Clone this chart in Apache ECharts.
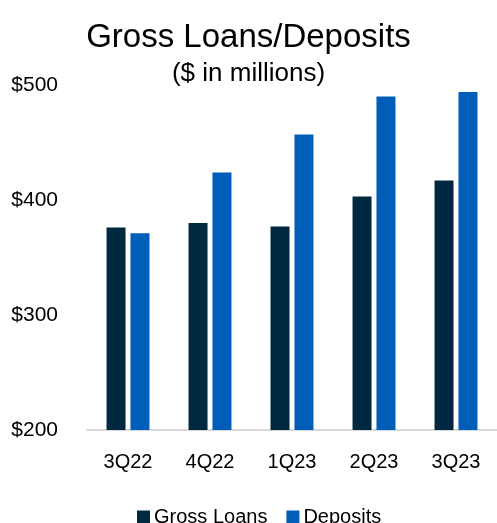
<!DOCTYPE html>
<html>
<head>
<meta charset="utf-8">
<script src="https://cdn.jsdelivr.net/npm/echarts@6/dist/echarts.min.js"></script>
<style>
html,body{margin:0;padding:0;background:#fff;}
#chart{width:497px;height:523px;}
</style>
</head>
<body>
<div id="chart"></div>
<script>
const categories = ['3Q22', '4Q22', '1Q23', '2Q23', '3Q23'];
const grossLoans = [376, 380, 377, 403, 417];
const deposits = [371, 424, 457, 490, 494];
const yTicks = { min: 200, max: 500, interval: 100 };

const FONT = 'Liberation Sans';
const chart = echarts.init(document.getElementById('chart'), null, { renderer: 'canvas' });
chart.setOption({
  animation: false,
  backgroundColor: '#ffffff',
  title: [
    { text: 'Gross Loans/Deposits', left: 'center', top: 16,
      textStyle: { fontFamily: FONT, fontSize: 33, fontWeight: 'normal', color: '#000' } },
    { text: '($ in millions)', left: 'center', top: 56,
      textStyle: { fontFamily: FONT, fontSize: 26, fontWeight: 'normal', color: '#000' } }
  ],
  legend: {
    data: ['Gross Loans', 'Deposits'],
    left: 132, top: 502,
    itemWidth: 13, itemHeight: 13, itemGap: 19,
    icon: 'rect',
    textStyle: { fontFamily: FONT, fontSize: 20, color: '#000', padding: [0, 0, 0, -1] }
  },
  grid: { left: 87, top: 85, width: 415, height: 345, containLabel: false },
  xAxis: {
    type: 'category',
    data: categories,
    axisLine: { show: true, lineStyle: { color: '#d9d9d9', width: 2 } },
    axisTick: { show: false },
    axisLabel: { fontFamily: FONT, fontSize: 20, color: '#000', margin: 22 }
  },
  yAxis: {
    type: 'value',
    min: yTicks.min, max: yTicks.max, interval: yTicks.interval,
    axisLine: { show: false },
    axisTick: { show: false },
    splitLine: { show: false },
    axisLabel: { fontFamily: FONT, fontSize: 21, color: '#000', margin: 29,
      formatter: v => '$' + v }
  },
  series: [
    { name: 'Gross Loans', type: 'bar', data: grossLoans, barWidth: 19, barGap: '26%',
      itemStyle: { color: '#002841' } },
    { name: 'Deposits', type: 'bar', data: deposits, barWidth: 19, barGap: '26%',
      itemStyle: { color: '#005EB8' } }
  ]
});
</script>
</body>
</html>
